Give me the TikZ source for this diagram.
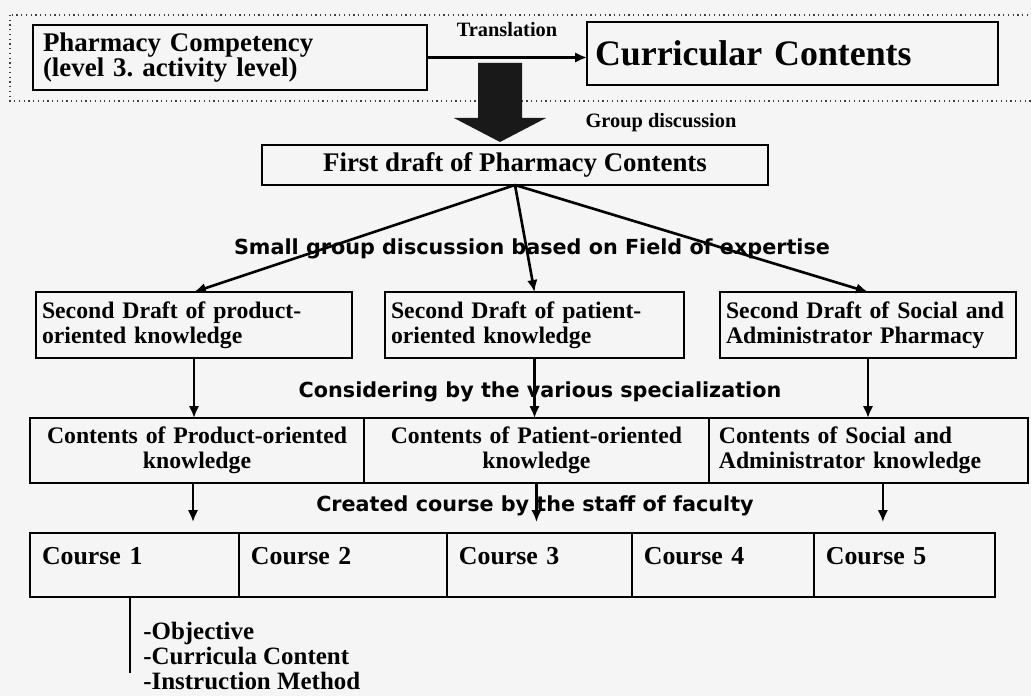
\documentclass[tikz,border=0pt]{standalone}
\usepackage{fontspec}
\setmainfont{Liberation Serif}
\newfontfamily\sansfam{DejaVu Sans}
\usepackage{tikz}
\usetikzlibrary{shapes, arrows.meta, positioning}
\frenchspacing
\newcommand{\txttop}{\bfseries\fontsize{15.3pt}{14.2pt}\selectfont}
\newcommand{\txtmain}{\bfseries\fontsize{13.5pt}{14.2pt}\selectfont}
\newcommand{\txtcourse}{\bfseries\fontsize{14.7pt}{14.2pt}\selectfont}
\newcommand{\txtlist}{\bfseries\fontsize{14.2pt}{14.2pt}\selectfont}
\newcommand{\txtbig}{\bfseries\fontsize{20.4pt}{22pt}\selectfont}
\newcommand{\txtnote}{\bfseries\fontsize{11.6pt}{13pt}\selectfont}
\newcommand{\txtsans}{\sansfam\bfseries\fontsize{11.8pt}{13pt}\selectfont}
\tikzstyle{block} = [draw, rectangle, line width=1pt, inner ysep=0pt, outer sep=0pt]
\tikzstyle{draft} = [block, align=left, inner xsep=0.12cm, minimum height=1.32cm, font=\txtmain]
\tikzstyle{content} = [block, inner xsep=0.2cm, minimum height=1.3cm, font=\txtmain]
\tikzstyle{course} = [block, align=left, inner xsep=0.24cm, text height=0.62cm, text depth=0.66cm, font=\txtcourse]
\tikzstyle{remark} = [font=\txtsans, inner sep=1pt]

\begin{document}
\begin{tikzpicture}[x=0.02cm, y=-0.02cm, >={Latex[length=0.24cm, width=0.21cm]}]
        % 线型
        \tikzstyle{flow} = [->, line width=1.5pt]
        \tikzstyle{note} = [font=\txtnote, inner sep=1pt]

        % 画布
        \useasboundingbox (0,0) rectangle (1031,696);
        \fill [black!4] (0,0) rectangle (1031,696);
        \draw [dotted, line width=0.7pt, black!75] (10,15) rectangle (1045,101);

        % 顶部
        \node [block, align=left, inner xsep=0.2cm, text width=7.48cm, minimum height=1.3cm, font=\txttop] (pc) at (230,57.5) {Pharmacy Competency\\(level 3. activity level)};
        \node [block, align=left, inner xsep=0.16cm, text width=7.9cm, minimum height=1.26cm, font=\txtbig] (cc) at (792.5,53.5) {Curricular Contents};
        \node [note] (grp) at (661,123) {Group discussion};
        \node [block, minimum width=10.12cm, minimum height=0.8cm, font=\txttop] (fd) at (515,165) {First draft of Pharmacy Contents};

        % 第二稿
        \node [remark] (sgd) at (532,249) {Small group discussion based on Field of expertise};
        \node [draft, text width=6.08cm] (sd1) at (194,325) {Second Draft of product-\\oriented knowledge};
        \node [draft, text width=5.74cm] (sd2) at (534.5,325) {Second Draft of patient-\\oriented knowledge};
        \node [draft, text width=5.68cm] (sd3) at (868,325) {Second Draft of Social and\\Administrator Pharmacy};

        % 内容
        \node [remark] (csp) at (540,392) {Considering by the various specialization};
        \node [content, align=center, text width=6.28cm] (ct1) at (197,450.5) {Contents of Product-oriented\\knowledge};
        \node [content, align=center, text width=6.5cm, right=0pt of ct1] (ct2) {Contents of Patient-oriented\\knowledge};
        \node [content, align=left, text width=5.98cm, right=0pt of ct2] (ct3) {Contents of Social and\\Administrator knowledge};

        % 课程
        \node [remark] (ccs) at (535,506) {Created course by the staff of faculty};
        \node [course, text width=3.7cm] (c1) at (134.5,565) {Course 1};
        \node [course, text width=3.68cm, right=0pt of c1] (c2) {Course 2};
        \node [course, text width=3.22cm, right=0pt of c2] (c3) {Course 3};
        \node [course, text width=3.16cm, right=0pt of c3] (c4) {Course 4};
        \node [course, text width=3.14cm, right=0pt of c4] (c5) {Course 5};
        \node [font=\txtlist, align=left, inner sep=0pt, anchor=north west] (obj) at (143,622) {-Objective\\-Curricula Content\\-Instruction Method};
        \coordinate (lstend) at (130,673);

        % 连线
        \draw [->, line width=1.3pt] (pc.east) -- node [note, above=0.36cm] (trs) {Translation} (pc.east -| cc.west);
        \fill [black!90] (478,63) -- (522,63) -- (522,118) -- (546,118) -- (500,142) -- (454,118) -- (478,118) -- cycle;
        \draw [flow] (fd.south) -- (sd1.north);
        \draw [flow] (fd.south) -- (sd2.north);
        \draw [flow] (fd.south) -- (sd3.north);
        \draw [flow] (sd1.south) -- (sd1.south |- ct1.north);
        \draw [flow] (sd2.south) -- (sd2.south |- ct2.north);
        \draw [flow] (sd3.south) -- (sd3.south |- ct3.north);
        \draw [flow, shorten >=0.22cm] ([xshift=-0.08cm]ct1.south) -- ([xshift=-0.08cm]ct1.south |- c1.north);
        \draw [flow, shorten >=0.22cm] (ct2.south) -- (ct2.south |- c3.north);
        \draw [flow, shorten >=0.22cm] ([xshift=0.29cm]ct3.south) -- ([xshift=0.29cm]ct3.south |- c5.north);
        \draw [line width=0.8pt] (c1.south -| lstend) -- (lstend);
    \end{tikzpicture}
\end{document}
